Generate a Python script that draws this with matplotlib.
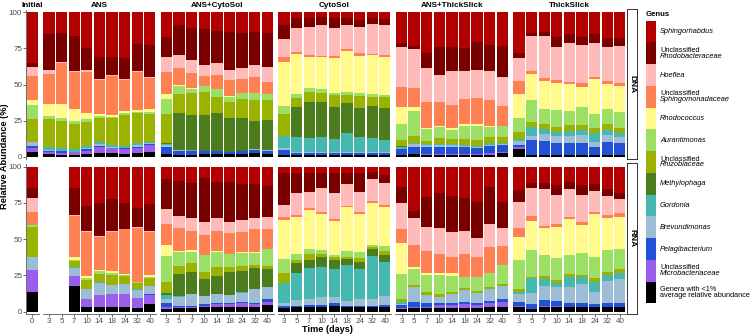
import matplotlib
matplotlib.use("Agg")
import matplotlib.pyplot as plt
from matplotlib.patches import Rectangle
import numpy as np

plt.rcParams['font.family'] = ['Liberation Sans', 'DejaVu Sans']

# stacking order, bottom -> top
genera = ['Genera with <1%\naverage relative abundance',
          'Unclassified\nMicrobacteriaceae',
          'Pelagibacterium',
          'Brevundimonas',
          'Gordonia',
          'Methylophaga',
          'Unclassified\nRhizobiaceae',
          'Aurantimonas',
          'Rhodococcus',
          'Unclassified\nSphingomonadaceae',
          'Hoeflea',
          'Unclassified\nRhodobacteraceae',
          'Sphingorhabdus']
colors = ['#000000', '#9B5DEB', '#2351D6', '#9DBDD6', '#45B8AF', '#4B7C1E',
          '#9AB300', '#9BE065', '#FFFA8A', '#FF8052', '#FFBABA', '#7A0000', '#B30000']

treatments = ['Initial', 'ANS', 'ANS+CytoSol', 'CytoSol', 'ANS+ThickSlick', 'ThickSlick']
days = ['3', '5', '7', '10', '14', '18', '24', '32', '40']
ans_rna_days = ['7', '10', '14', '18', '24', '32', '40']

# DNA (rows = sampling days, columns = genera in stacking order)
dna_initial = [[3.5, 2.3, 1.8, 2.8, 0, 0, 15.9, 9.3, 3.7, 16.6, 6.5, 2.7, 34.9]]
dna_ans = [
    [2.0, 1.5, 0.5, 0.5, 1.9, 0, 19.7, 2.3, 8.1, 20.7, 2.8, 25.0, 15.0],
    [1.2, 1.5, 1.0, 0.5, 1.6, 0, 19.1, 1.7, 9.9, 28.2, 1.1, 19.7, 14.5],
    [1.2, 1.8, 0.3, 0.3, 1.4, 0, 18.0, 1.6, 8.6, 25.4, 0.7, 24.7, 16.4],
    [1.8, 2.3, 1.2, 0.5, 1.6, 0, 16.9, 1.6, 4.6, 28.2, 1.4, 15.9, 24.5],
    [2.8, 4.2, 0.5, 1.2, 1.2, 0, 17.4, 1.1, 1.2, 24.2, 0.7, 14.8, 31.4],
    [2.3, 3.5, 0.5, 0.5, 1.3, 0, 18.5, 1.1, 1.2, 27.0, 0.7, 12.2, 31.2],
    [1.8, 3.5, 0.5, 0.5, 1.3, 0, 21.3, 1.1, 1.6, 21.5, 0.5, 14.5, 31.9],
    [2.3, 3.9, 0.8, 0.8, 1.9, 0, 20.3, 1.2, 1.1, 26.6, 0.7, 18.2, 22.2],
    [3.5, 4.5, 0.6, 0.6, 1.2, 0, 19.2, 1.1, 2.3, 21.3, 1.1, 22.0, 22.6]]
dna_ans_cyto = [
    [1.8, 0, 5.1, 1.0, 0.9, 0.9, 19.9, 10.1, 3.5, 15.7, 10.4, 13.4, 17.3],
    [1.2, 0.3, 2.3, 0.8, 0.3, 25.4, 13.2, 5.8, 0.3, 11.9, 9.2, 20.8, 8.8],
    [1.2, 0.3, 2.3, 0.5, 0.3, 24.3, 15.0, 3.4, 0.3, 10.4, 9.3, 21.9, 11.1],
    [1.8, 0.3, 1.6, 0.3, 0.2, 24.7, 16.1, 4.0, 0.2, 6.7, 7.6, 24.7, 11.8],
    [1.8, 0.3, 1.6, 0.3, 0.2, 25.8, 11.1, 5.6, 0.3, 9.6, 8.5, 22.2, 12.7],
    [1.8, 0.2, 1.3, 0.2, 0, 23.1, 11.5, 3.5, 0.3, 11.2, 6.9, 26.6, 13.4],
    [1.8, 0.3, 1.6, 0.3, 0, 22.4, 13.8, 3.5, 0.3, 9.4, 7.6, 24.7, 14.1],
    [2.3, 0.3, 2.3, 0.3, 0, 19.8, 14.4, 4.6, 0.3, 10.8, 8.5, 23.1, 13.4],
    [1.8, 0.3, 2.0, 0.5, 0, 20.8, 13.9, 3.9, 0.3, 8.5, 10.4, 23.5, 14.1]]
dna_cyto = [
    [1.2, 0.3, 3.2, 1.2, 8.5, 0, 15.3, 5.5, 30.7, 3.5, 12.0, 9.9, 8.8],
    [1.2, 0.2, 1.0, 1.1, 10.4, 20.3, 6.2, 3.0, 27.7, 1.6, 16.2, 6.9, 4.2],
    [1.2, 0.2, 1.0, 1.1, 9.2, 25.4, 6.9, 2.3, 22.0, 1.1, 19.6, 5.8, 4.2],
    [1.2, 0.2, 1.0, 1.1, 10.4, 24.2, 6.2, 2.4, 22.1, 0.9, 21.5, 5.8, 3.0],
    [1.2, 0.2, 1.0, 1.1, 8.5, 22.6, 8.1, 1.6, 23.8, 1.6, 19.2, 6.9, 4.2],
    [1.2, 0.2, 1.0, 1.1, 13.1, 20.4, 5.7, 2.3, 28.2, 1.2, 16.8, 4.6, 4.2],
    [1.2, 0.2, 1.0, 1.1, 10.4, 19.6, 8.5, 2.3, 25.7, 1.6, 18.4, 4.7, 5.3],
    [1.2, 0.2, 1.0, 1.1, 9.2, 22.4, 6.0, 2.3, 27.0, 0.7, 20.8, 3.9, 4.2],
    [1.2, 0.2, 1.0, 1.1, 8.0, 22.0, 7.6, 1.6, 26.1, 1.6, 20.8, 3.9, 4.9]]
dna_ans_thick = [
    [1.2, 0.2, 3.7, 0.4, 1.4, 0.3, 4.6, 11.1, 11.6, 13.8, 28.2, 2.3, 21.5],
    [1.8, 0.2, 4.9, 1.6, 1.2, 0, 4.6, 16.9, 2.8, 13.4, 26.4, 2.3, 23.3],
    [1.2, 0.3, 5.4, 1.0, 0.5, 0, 2.3, 8.1, 0.7, 17.8, 23.1, 10.2, 27.9],
    [1.2, 0.7, 5.1, 1.0, 0.8, 0, 3.9, 7.6, 0.9, 16.9, 18.5, 19.6, 23.8],
    [1.2, 0.6, 5.1, 1.2, 0.7, 0, 3.2, 6.5, 1.1, 16.2, 23.8, 16.2, 24.2],
    [1.2, 0.6, 4.6, 1.2, 0.5, 0, 3.9, 9.2, 1.4, 17.1, 19.9, 15.5, 24.9],
    [1.2, 0.6, 3.9, 1.2, 0.5, 0, 4.1, 9.7, 1.4, 17.8, 19.2, 19.1, 20.3],
    [1.4, 1.0, 4.8, 1.2, 0.9, 0, 4.2, 7.3, 0.3, 17.8, 20.3, 17.8, 22.6],
    [2.3, 1.2, 4.6, 0.5, 1.1, 0, 4.2, 7.3, 0.3, 13.6, 19.9, 21.7, 23.3]]
dna_thick = [
    [5.5, 1.0, 1.8, 2.3, 1.8, 0, 4.6, 9.3, 17.0, 8.4, 16.1, 3.3, 27.9],
    [1.2, 0.1, 10.3, 2.8, 6.5, 0, 3.4, 15.1, 18.0, 2.3, 24.0, 2.3, 14.1],
    [1.2, 0.1, 9.8, 4.6, 3.2, 0, 3.7, 10.2, 19.9, 1.6, 29.3, 3.0, 13.4],
    [1.2, 0.1, 7.9, 5.1, 3.0, 0, 3.5, 11.5, 19.0, 1.8, 23.1, 6.9, 16.9],
    [1.2, 0.1, 7.9, 5.1, 3.7, 0, 3.9, 10.0, 18.4, 1.7, 27.0, 6.0, 15.0],
    [1.2, 0.1, 8.4, 5.3, 3.5, 0, 3.4, 12.7, 13.9, 2.3, 26.6, 5.3, 17.3],
    [1.2, 0.1, 5.6, 3.5, 5.8, 0, 3.4, 10.0, 24.0, 1.8, 23.1, 6.5, 15.0],
    [1.2, 0.1, 9.1, 4.6, 3.5, 0, 4.1, 10.2, 17.5, 2.4, 23.5, 5.8, 18.0],
    [1.2, 0.1, 8.4, 4.2, 2.3, 0, 3.4, 11.6, 17.8, 2.3, 25.6, 5.3, 18.0]]

# RNA
rna_initial = [[13.8, 14.9, 0, 8.8, 0, 0, 20.7, 1.6, 0, 9.2, 9.2, 6.9, 14.9]]
rna_ans = [
    [17.7, 6.9, 0, 6.0, 0.3, 0, 4.6, 0.5, 2.3, 28.5, 0.3, 19.1, 14.9],
    [3.4, 5.1, 0.3, 6.6, 0.3, 0, 6.4, 1.2, 1.1, 30.9, 0.7, 17.2, 26.9],
    [3.4, 8.1, 0.3, 8.2, 0.3, 0, 6.0, 1.5, 1.2, 22.5, 0.9, 22.5, 25.3],
    [3.4, 8.6, 0.3, 6.1, 0.3, 0, 6.9, 1.1, 1.2, 26.9, 0.7, 22.3, 22.5],
    [3.4, 8.8, 0.3, 6.6, 0.3, 0, 5.1, 0.5, 1.2, 30.4, 0.6, 17.3, 25.3],
    [2.8, 6.4, 0.3, 5.9, 0.3, 0, 4.1, 0.5, 0, 38.0, 0.5, 13.3, 28.7],
    [5.3, 6.4, 0.3, 5.5, 0.3, 0, 5.3, 1.1, 1.2, 29.9, 0.5, 19.1, 25.7]]
rna_ans_cyto = [
    [1.6, 1.8, 2.8, 2.3, 3.0, 1.6, 7.6, 17.9, 7.4, 14.5, 10.1, 20.9, 8.5],
    [2.3, 0.8, 0.8, 6.4, 0.3, 15.7, 5.5, 9.9, 0.3, 16.1, 8.5, 24.3, 9.7],
    [2.3, 0.8, 0.9, 8.0, 0.2, 15.4, 6.2, 7.6, 1.1, 13.4, 8.5, 24.1, 11.5],
    [3.0, 1.1, 1.2, 5.5, 0.2, 11.5, 5.3, 11.5, 0.2, 13.8, 8.5, 30.6, 8.0],
    [3.0, 2.1, 0.6, 6.5, 0.2, 12.4, 6.4, 10.4, 0.2, 13.8, 9.6, 24.9, 10.3],
    [3.0, 2.3, 0.4, 5.8, 0, 16.1, 3.0, 9.2, 0.2, 14.2, 8.1, 27.6, 10.3],
    [3.4, 2.3, 1.2, 6.2, 0.2, 15.2, 3.2, 9.2, 0.2, 13.8, 8.7, 24.8, 12.0],
    [3.4, 1.8, 1.0, 9.2, 0.2, 14.5, 2.3, 8.5, 0.2, 15.9, 7.6, 23.6, 12.0],
    [4.6, 2.3, 1.6, 8.7, 0.2, 12.0, 2.3, 11.5, 0.2, 13.8, 8.3, 21.6, 13.3]]
rna_cyto = [
    [2.3, 0.3, 1.3, 1.8, 14.3, 0, 6.4, 9.7, 27.1, 1.9, 8.5, 22.3, 4.1],
    [3.0, 0.3, 0.6, 4.0, 18.9, 6.4, 2.3, 4.1, 25.3, 1.6, 14.9, 13.8, 4.6],
    [3.0, 0.3, 1.1, 4.6, 21.4, 5.5, 3.7, 3.7, 27.1, 1.2, 11.5, 12.6, 4.6],
    [3.0, 0.3, 1.1, 5.7, 20.7, 6.9, 2.3, 2.8, 24.4, 1.6, 16.1, 10.8, 4.1],
    [3.9, 0.3, 1.8, 4.3, 18.9, 6.4, 1.8, 1.6, 23.7, 0.9, 17.9, 13.8, 4.6],
    [3.0, 0.3, 0.6, 3.7, 24.6, 3.9, 1.8, 4.2, 29.9, 0.9, 15.1, 7.9, 4.1],
    [3.0, 0.3, 0.6, 4.6, 20.7, 5.3, 2.3, 4.6, 26.0, 1.6, 13.8, 12.6, 4.6],
    [3.0, 0.3, 0.6, 4.6, 29.9, 4.6, 1.4, 1.6, 29.2, 1.4, 14.7, 5.3, 3.4],
    [3.0, 0.3, 1.3, 6.2, 23.7, 4.6, 3.0, 3.2, 26.7, 1.6, 14.9, 5.8, 5.7]]
rna_ans_thick = [
    [1.6, 0.7, 2.3, 0.7, 1.6, 0, 1.6, 17.5, 21.6, 9.2, 17.9, 11.5, 13.8],
    [2.3, 1.1, 3.5, 9.9, 0.2, 0, 1.6, 10.8, 1.4, 15.4, 18.4, 5.3, 30.3],
    [2.3, 1.1, 2.3, 5.8, 0.2, 0, 1.6, 12.1, 1.2, 15.0, 17.2, 20.7, 20.7],
    [2.3, 2.3, 1.1, 4.2, 0.2, 0, 2.1, 12.9, 1.4, 13.8, 17.7, 24.6, 17.9],
    [2.3, 2.3, 1.1, 6.4, 0.2, 0, 1.6, 10.8, 2.3, 11.0, 17.3, 24.6, 20.2],
    [2.3, 3.0, 1.6, 8.0, 0.2, 0, 1.2, 7.6, 0.3, 16.1, 15.4, 23.0, 21.8],
    [2.3, 2.3, 1.1, 6.9, 0.2, 0, 1.2, 9.9, 0.2, 13.8, 13.1, 25.3, 24.1],
    [3.4, 2.3, 1.9, 7.8, 0.2, 0, 1.8, 9.2, 0.3, 17.9, 16.1, 25.7, 13.8],
    [3.4, 3.4, 1.7, 9.2, 0.2, 0, 1.4, 13.1, 0.2, 12.6, 12.7, 18.4, 24.1]]
rna_thick = [
    [3.0, 0.9, 3.0, 5.3, 1.6, 0, 1.6, 20.2, 15.7, 6.2, 18.4, 8.0, 16.1],
    [1.6, 0.3, 3.4, 7.3, 10.4, 0, 1.1, 18.4, 20.3, 3.2, 19.1, 3.9, 11.0],
    [3.4, 0.3, 4.3, 9.7, 4.6, 0, 2.3, 14.5, 18.4, 1.6, 25.3, 4.6, 11.0],
    [3.4, 0.3, 3.9, 9.2, 3.2, 0, 1.8, 15.0, 21.8, 1.9, 19.9, 6.9, 12.6],
    [3.0, 0.3, 2.9, 11.0, 6.9, 0, 1.9, 13.1, 24.6, 1.8, 18.9, 5.3, 10.3],
    [3.0, 0.3, 2.9, 12.9, 4.6, 0, 1.6, 14.9, 19.6, 2.3, 18.4, 6.9, 12.6],
    [3.0, 0.3, 2.0, 8.5, 6.9, 0, 2.3, 14.9, 29.5, 1.6, 14.4, 4.6, 12.0],
    [3.0, 0.3, 2.4, 15.7, 3.9, 0, 2.3, 14.9, 21.9, 2.3, 13.1, 4.6, 15.6],
    [3.0, 0.3, 2.9, 16.1, 4.6, 0, 2.3, 13.8, 22.5, 2.3, 9.7, 4.1, 18.4]]

panel_days = [['0'], days, days, days, days, days]
rows = [
    ('DNA', [dna_initial, dna_ans, dna_ans_cyto, dna_cyto, dna_ans_thick, dna_thick],
     [['0'], days, days, days, days, days]),
    ('RNA', [rna_initial, rna_ans, rna_ans_cyto, rna_cyto, rna_ans_thick, rna_thick],
     [['0'], ans_rna_days, days, days, days, days]),
]

W, H = 752, 335
fig = plt.figure(figsize=(W / 100, H / 100), dpi=100)

def fx(x):
    return x / W

def fy(y):
    return 1 - y / H

def fax(x0, y0, x1, y1):
    return fig.add_axes([fx(x0), fy(y1), (x1 - x0) / W, (y1 - y0) / H])

unit, gap, left0 = 12.6, 4.1, 26.0
row_px = [(10.0, 159.0), (164.4, 314.0)]
axcol = '#555555'
tcol = '#4D4D4D'

for r, (nucleic, datasets, bar_days) in enumerate(rows):
    y0, y1 = row_px[r]
    x = left0
    for c, name in enumerate(treatments):
        cats = panel_days[c]
        w = unit * len(cats)
        ax = fax(x, y0, x + w, y1)
        x += w + gap
        vals = np.array(datasets[c], dtype=float)
        vals = vals / vals.sum(axis=1, keepdims=True) * 100
        pos = [cats.index(d) for d in bar_days[c]]
        bottom = np.zeros(len(pos))
        for g in range(len(genera)):
            ax.bar(pos, vals[:, g], bottom=bottom, width=0.9,
                   color=colors[g], linewidth=0)
            bottom += vals[:, g]
        ax.set_xlim(-0.5, len(cats) - 0.5)
        ax.set_ylim(-1.6, 101.6)
        for s in ['top', 'right']:
            ax.spines[s].set_visible(False)
        ax.spines['left'].set_visible(c == 0)
        ax.spines['bottom'].set_visible(r == 1)
        for s in ['left', 'bottom']:
            ax.spines[s].set_color(axcol)
            ax.spines[s].set_linewidth(0.6)
        ax.set_xticks(range(len(cats)))
        ax.set_yticks([0, 25, 50, 75, 100])
        ax.tick_params(colors=axcol, labelcolor=tcol, labelsize=5.8,
                       length=2.0, width=0.6, pad=0.8)
        if r == 1:
            ax.set_xticklabels(cats)
        else:
            ax.tick_params(axis='x', bottom=False, labelbottom=False)
        if c != 0:
            ax.tick_params(axis='y', left=False, labelleft=False)
        if r == 0:
            ax.set_title(name, fontsize=5.9, fontweight='bold', pad=2.0)
    # row strip on the right
    sax = fax(627.3, y0 - 1.5, 637.0, y1)
    sax.set_xticks([])
    sax.set_yticks([])
    for s in sax.spines.values():
        s.set_color('#333333')
        s.set_linewidth(0.7)
    sax.text(0.5, 0.5, nucleic, rotation=-90, ha='center', va='center',
             fontsize=6, fontweight='bold', transform=sax.transAxes)

fig.text(fx(5.0), fy(156), 'Relative Abundance (%)', rotation=90,
         ha='center', va='center', fontsize=6.7, fontweight='bold')
fig.text(fx(327), fy(329.3), 'Time (days)', ha='center', va='center',
         fontsize=6.6, fontweight='bold')

# legend (top -> bottom), drawn key by key
fig.text(fx(645.5), fy(15), 'Genus', ha='left', va='center',
         fontsize=5.6, fontweight='bold')
key_top, key_h = 20.7, 21.75
for i, g in enumerate(range(len(genera) - 1, -1, -1)):
    ky = key_top + i * key_h
    fig.add_artist(Rectangle((fx(645.7), fy(ky + key_h)), 10.3 / W, key_h / H,
                             facecolor=colors[g], edgecolor='none',
                             transform=fig.transFigure))
    yc = ky + key_h / 2
    lines = genera[g].split('\n')
    if len(lines) == 1:
        fig.text(fx(660), fy(yc), lines[0], ha='left', va='center',
                 fontsize=5.3, style='italic')
    else:
        second_style = 'normal' if g == 0 else 'italic'
        fig.text(fx(660), fy(yc - 2.9), lines[0], ha='left', va='center',
                 fontsize=5.3)
        fig.text(fx(660), fy(yc + 2.9), lines[1], ha='left', va='center',
                 fontsize=5.3, style=second_style)

fig.savefig('out.png', dpi=100)
